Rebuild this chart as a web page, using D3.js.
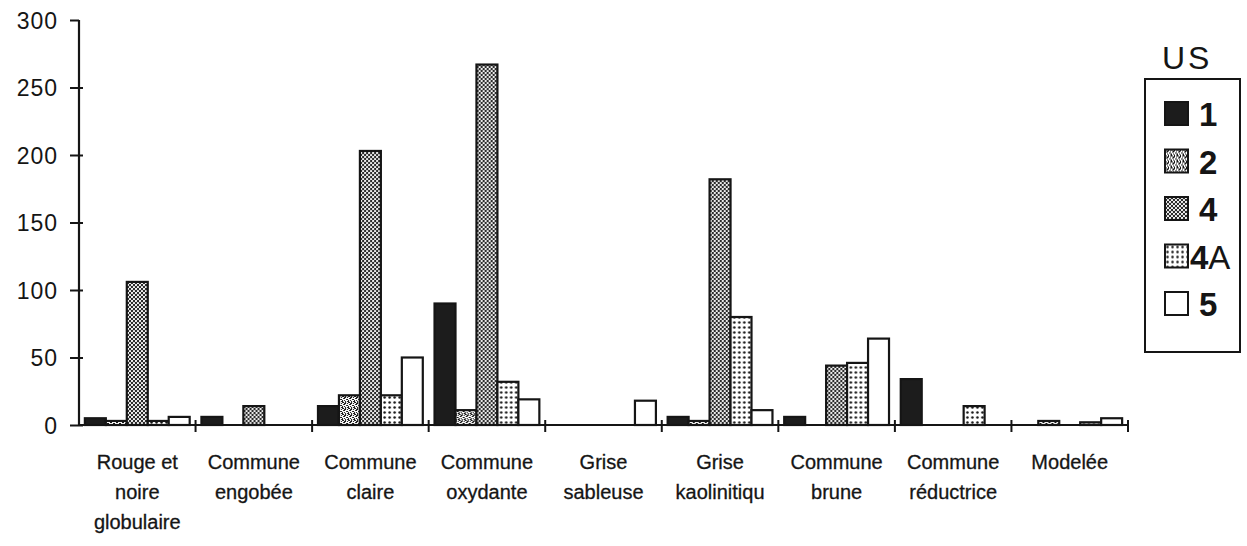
<!DOCTYPE html>
<html>
<head>
<meta charset="utf-8">
<script src="https://cdn.jsdelivr.net/npm/d3@7"></script>
<style>
  html, body { margin: 0; padding: 0; background: #fff; }
  svg { display: block; }
  text { fill: #151515; font-family: "Liberation Sans", Arial, sans-serif; }
</style>
</head>
<body>
<svg id="chart" width="1247" height="546"></svg>
<script>
// Ceramic categories (wrapped label lines) and counts per stratigraphic unit (US)
const categoryLabels = [
  ["Rouge et", "noire", "globulaire"],
  ["Commune", "engobée"],
  ["Commune", "claire"],
  ["Commune", "oxydante"],
  ["Grise", "sableuse"],
  ["Grise", "kaolinitiqu"],
  ["Commune", "brune"],
  ["Commune", "réductrice"],
  ["Modelée"]
];
const seriesNames = ["1", "2", "4", "4A", "5"];
const us1  = [5,   6,  14,  90,  0,   6,  6, 34, 0];
const us2  = [3,   0,  22,  11,  0,   3,  0,  0, 3];
const us4  = [106, 14, 203, 267, 0, 182, 44,  0, 0];
const us4A = [3,   0,  22,  32,  0,  80, 46, 14, 2];
const us5  = [6,   0,  50,  19, 18,  11, 64,  0, 5];
const yTicks = [0, 50, 100, 150, 200, 250, 300];

const seriesValues = [us1, us2, us4, us4A, us5];
const categories = categoryLabels.map(l => l.join(" "));

const svg = d3.select("#chart");
const ink = "#151515";

// Fill patterns, one per unit
const defs = svg.append("defs");

const p2 = defs.append("pattern").attr("id", "pat-2")
  .attr("patternUnits", "userSpaceOnUse").attr("width", 6).attr("height", 6);
p2.append("rect").attr("width", 6).attr("height", 6).attr("fill", "#fff");
[[0,0,2,1],[3,0,1,2],[1,2,2,1],[4,3,2,1],[0,4,1,2],[2,4,1,1],[5,5,1,1],[3,5,1,1],[5,1,1,1],[2,1,1,1]]
  .forEach(([x, y, w, h]) => p2.append("rect").attr("x", x).attr("y", y)
    .attr("width", w).attr("height", h).attr("fill", ink));

const p4 = defs.append("pattern").attr("id", "pat-4")
  .attr("patternUnits", "userSpaceOnUse").attr("width", 4).attr("height", 4);
p4.append("rect").attr("width", 4).attr("height", 4).attr("fill", "#2a2a2a");
[[1, 1], [3, 3]].forEach(([cx, cy]) => p4.append("circle")
  .attr("cx", cx).attr("cy", cy).attr("r", 1.1).attr("fill", "#fff"));

const p4A = defs.append("pattern").attr("id", "pat-4A")
  .attr("patternUnits", "userSpaceOnUse").attr("width", 5).attr("height", 5);
p4A.append("rect").attr("width", 5).attr("height", 5).attr("fill", "#fff");
p4A.append("circle").attr("cx", 2.5).attr("cy", 2.5).attr("r", 1.25).attr("fill", ink);

const fills = {
  "1": "#1c1c1c",
  "2": "url(#pat-2)",
  "4": "url(#pat-4)",
  "4A": "url(#pat-4A)",
  "5": "#fff"
};

// Scales
const x0 = d3.scaleBand().domain(categories).range([79, 1128]).padding(0);
const x1 = d3.scaleBand().domain(seriesNames).range([0, x0.bandwidth()])
  .paddingInner(0).paddingOuter(0.28);
const y = d3.scaleLinear().domain([0, 300]).range([425, 20]);

// Bars
const groups = svg.append("g").selectAll("g")
  .data(categories).join("g")
  .attr("transform", d => `translate(${x0(d)},0)`);

groups.selectAll("rect")
  .data((c, ci) => seriesNames.map((s, si) => ({ s, v: seriesValues[si][ci] })))
  .join("rect")
  .filter(d => d.v > 0)
  .attr("x", d => x1(d.s))
  .attr("y", d => y(d.v))
  .attr("width", x1.bandwidth())
  .attr("height", d => y(0) - y(d.v))
  .attr("fill", d => fills[d.s])
  .attr("stroke", ink)
  .attr("stroke-width", 2.2);

// Y axis: ticks cross the axis line
const yAxis = svg.append("g").attr("transform", "translate(79,0)")
  .call(d3.axisLeft(y).tickValues(yTicks).tickSize(8).tickPadding(13));
yAxis.select(".domain").attr("stroke", ink).attr("stroke-width", 2.2)
  .attr("d", `M0,${y(0)}V${y(300)}`);
yAxis.selectAll(".tick line").attr("stroke", ink).attr("stroke-width", 2)
  .attr("x1", d => d === 300 ? 0 : 4).attr("x2", -9);
yAxis.selectAll(".tick text")
  .style("font-size", "23px").style("letter-spacing", "1px")
  .attr("fill", ink).attr("dy", "0.36em");

// X axis: line with boundary ticks, labels centred under each group
const xAxis = svg.append("g");
xAxis.append("path")
  .attr("d", `M${x0.range()[0]},${y(0)}H${x0.range()[1]}`)
  .attr("stroke", ink).attr("stroke-width", 2.2).attr("fill", "none");
const bounds = categories.map(c => x0(c)).concat([x0.range()[1]]);
xAxis.selectAll("line.bound").data(bounds.slice(1)).join("line")
  .attr("class", "bound")
  .attr("x1", d => d).attr("x2", d => d)
  .attr("y1", y(0) - 5).attr("y2", y(0) + 7)
  .attr("stroke", ink).attr("stroke-width", 2);

const labels = xAxis.selectAll("text.cat").data(categoryLabels).join("text")
  .attr("class", "cat")
  .attr("text-anchor", "middle")
  .style("font-size", "20px")
  .attr("stroke", ink).attr("stroke-width", 0.3);
labels.each(function(lines, i) {
  const cx = x0(categories[i]) + x0.bandwidth() / 2;
  d3.select(this).selectAll("tspan").data(lines).join("tspan")
    .attr("x", cx)
    .attr("y", (d, j) => 469 + j * 30)
    .text(d => d);
});

// Legend
const legend = svg.append("g");
legend.append("text").attr("x", 1162).attr("y", 69)
  .style("font-size", "32px").style("letter-spacing", "3px").text("US");
legend.append("rect").attr("x", 1145).attr("y", 79)
  .attr("width", 95).attr("height", 273)
  .attr("fill", "none").attr("stroke", ink).attr("stroke-width", 2);

const items = legend.selectAll("g.item").data(seriesNames).join("g")
  .attr("class", "item")
  .attr("transform", (d, i) => `translate(1165,${102 + i * 47.5})`);
items.append("rect")
  .attr("width", 23).attr("height", 23)
  .attr("fill", d => fills[d])
  .attr("stroke", ink).attr("stroke-width", 2);
items.append("text")
  .attr("x", d => d === "4A" ? 25 : 34)
  .attr("y", 24)
  .style("font-size", "33px")
  .each(function(d) {
    const t = d3.select(this);
    t.append("tspan").style("font-weight", "bold").text(d.charAt(0));
    if (d.length > 1) t.append("tspan").style("font-weight", "normal").text(d.slice(1));
  });
</script>
</body>
</html>
